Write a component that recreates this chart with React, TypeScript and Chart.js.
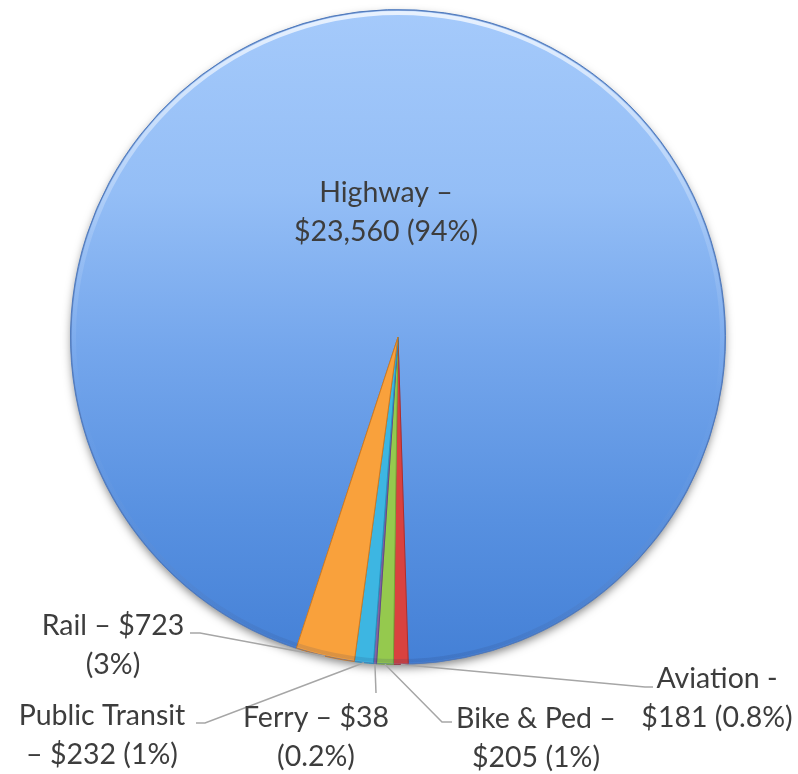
import React, { useEffect, useRef } from "react";
import { Chart, registerables } from "chart.js";

Chart.register(...registerables);

const categories = ["Highway", "Aviation", "Bike & Ped", "Ferry", "Public Transit", "Rail"];
const values = [23560, 181, 205, 38, 232, 723];
const labelLines = [
  ["Highway –", "$23,560 (94%)"],
  ["Aviation -", "$181 (0.8%)"],
  ["Bike & Ped –", "$205 (1%)"],
  ["Ferry – $38", "(0.2%)"],
  ["Public Transit", "– $232 (1%)"],
  ["Rail – $723", "(3%)"],
];
const sliceColors = ["#6FA3EA", "#D9423F", "#95C94E", "#8064A2", "#3DB6E2", "#F9A13C"];
const sliceBorders = ["#4F7FC4", "#B02E2C", "#77A638", "#62498A", "#2495C0", "#D07A20"];

// layout (label anchors: centre x, first baseline y)
const labelPos = [
  { x: 386, y: 202 },
  { x: 717, y: 688 },
  { x: 536, y: 728 },
  { x: 316, y: 727 },
  { x: 102, y: 725 },
  { x: 113, y: 635 },
];
const leaderPaths: (number[][] | null)[] = [
  null,
  [[645, 687], [653, 687]],
  [[442, 722], [452, 722]],
  [[376, 693]],
  [[205, 723], [196, 723]],
  [[200, 633], [190, 633]],
];
const LINE_H = 39;
const FONT = '28.5px Lato, "Open Sans", sans-serif';

export default function App() {
  const ref = useRef<HTMLCanvasElement>(null);
  useEffect(() => {
    document.body.style.margin = "0";
    const canvas = ref.current!;
    const shadowPlugin = {
      id: "pieShadow",
      beforeDatasetsDraw(chart: any) {
        const arc = chart.getDatasetMeta(0).data[0];
        if (!arc) return;
        const { x, y, outerRadius } = arc.getProps(["x", "y", "outerRadius"], true);
        const ctx = chart.ctx;
        ctx.save();
        ctx.shadowColor = "rgba(0,0,0,0.5)";
        ctx.shadowBlur = 10;
        ctx.shadowOffsetY = 4;
        ctx.beginPath();
        ctx.arc(x, y, outerRadius - 1, 0, Math.PI * 2);
        ctx.fillStyle = "#ffffff";
        ctx.fill();
        ctx.restore();
      },
      afterDatasetsDraw(chart: any) {
        const arc = chart.getDatasetMeta(0).data[0];
        if (!arc) return;
        const { x, y, outerRadius } = arc.getProps(["x", "y", "outerRadius"], true);
        const ctx = chart.ctx;
        ctx.save();
        const g = ctx.createLinearGradient(0, y - outerRadius, 0, y + outerRadius);
        g.addColorStop(0, "rgba(255,255,255,0.75)");
        g.addColorStop(0.35, "rgba(255,255,255,0.15)");
        g.addColorStop(0.6, "rgba(255,255,255,0)");
        g.addColorStop(1, "rgba(30,50,100,0.15)");
        ctx.beginPath();
        ctx.arc(x, y, outerRadius - 3.5, 0, Math.PI * 2);
        ctx.lineWidth = 4;
        ctx.strokeStyle = g;
        ctx.stroke();
        ctx.beginPath();
        ctx.arc(x, y, outerRadius - 0.5, 0, Math.PI * 2);
        ctx.lineWidth = 1;
        ctx.strokeStyle = "rgba(80,110,170,0.55)";
        ctx.stroke();
        ctx.restore();
      },
    };
    const labelPlugin = {
      id: "pieLabels",
      afterDraw(chart: any) {
        const ctx = chart.ctx;
        const meta = chart.getDatasetMeta(0);
        ctx.save();
        ctx.strokeStyle = "#A6A6A6";
        ctx.lineWidth = 1.5;
        meta.data.forEach((el: any, i: number) => {
          const path = leaderPaths[i];
          if (!path) return;
          const { x, y, startAngle, endAngle, outerRadius } = el.getProps(
            ["x", "y", "startAngle", "endAngle", "outerRadius"],
            true
          );
          const mid = (startAngle + endAngle) / 2;
          const px = x + Math.cos(mid) * outerRadius;
          const py = y + Math.sin(mid) * outerRadius;
          ctx.beginPath();
          ctx.moveTo(px, py);
          path.forEach((p) => ctx.lineTo(p[0], p[1]));
          ctx.stroke();
        });
        ctx.font = FONT;
        ctx.fillStyle = "#3D3D3D";
        ctx.textAlign = "center";
        ctx.textBaseline = "alphabetic";
        labelLines.forEach((lines, i) => {
          const pos = labelPos[i];
          lines.forEach((t, j) => ctx.fillText(t, pos.x, pos.y + j * LINE_H));
        });
        ctx.restore();
      },
    };
    const chart = new Chart(canvas, {
      type: "pie",
      data: {
        labels: categories,
        datasets: [
          {
            data: values,
            backgroundColor: (c: any) => {
              const i = c.dataIndex;
              if (i !== 0) return sliceColors[i];
              const area = c.chart.chartArea;
              if (!area) return sliceColors[0];
              const g = c.chart.ctx.createLinearGradient(0, area.top, 0, area.bottom);
              g.addColorStop(0, "#A5CAFB");
              g.addColorStop(0.28, "#94BEF6");
              g.addColorStop(0.52, "#74A6EC");
              g.addColorStop(0.78, "#5790E0");
              g.addColorStop(1, "#4480D6");
              return g;
            },
            borderColor: sliceBorders,
            borderWidth: 1,
          },
        ],
      },
      options: {
        responsive: false,
        animation: false,
        rotation: 198.1,
        layout: { padding: { left: 70, right: 72, top: 9, bottom: 109 } },
        plugins: { legend: { display: false }, tooltip: { enabled: false } },
      },
      plugins: [shadowPlugin, labelPlugin],
    });
    return () => chart.destroy();
  }, []);
  return (
    <div style={{ width: 798, height: 774, background: "#fff" }}>
      <canvas ref={ref} width={798} height={774} style={{ display: "block" }} />
    </div>
  );
}
